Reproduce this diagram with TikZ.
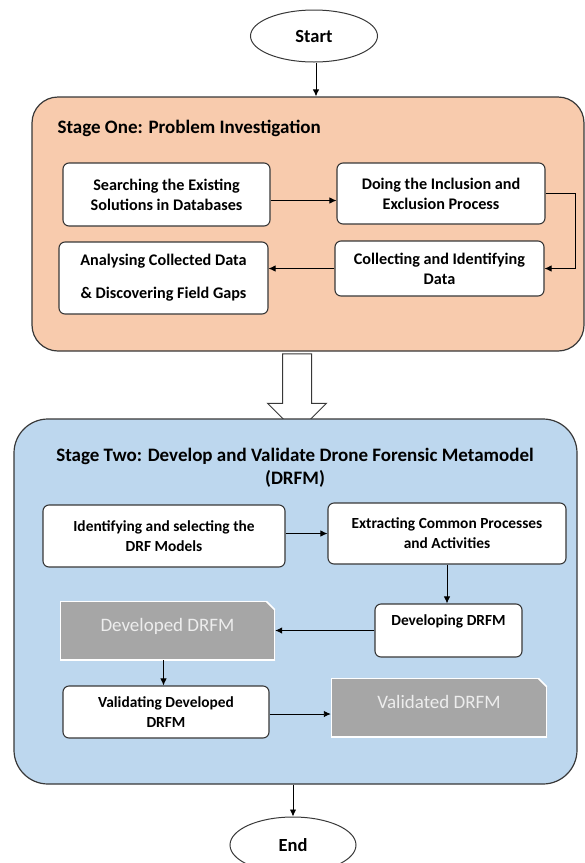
\documentclass[tikz,border=0pt]{standalone}
\usepackage{fontspec}
\setmainfont{Carlito}
\usetikzlibrary{arrows.meta,shapes.geometric,shapes.arrows}
\definecolor{stageone}{HTML}{F8CBAD}
\definecolor{stagetwo}{HTML}{BDD7EE}
\definecolor{docgray}{HTML}{A6A6A6}
\definecolor{edge}{HTML}{383838}

\begin{document}
\begin{tikzpicture}[x=1pt, y=-1pt,
    stage/.style={draw=edge, line width=1.2pt, rounded corners=26pt, inner sep=0pt},
    task/.style={draw=edge, line width=1.1pt, fill=white, rounded corners=6pt, align=center, inner sep=0pt,
        font=\fontsize{16.2}{20}\selectfont\bfseries},
    tasktwo/.style={task, font=\fontsize{15.4}{20}\selectfont\bfseries},
    output/.style={inner sep=0pt, align=center, text=white!93!black, font=\fontsize{19}{20}\selectfont,
        path picture={\fill[docgray, draw=white, line width=1.6pt]
            (path picture bounding box.south west) -- (path picture bounding box.north west)
            -- ([xshift=-9pt]path picture bounding box.north east)
            -- ([yshift=-9pt]path picture bounding box.north east)
            -- (path picture bounding box.south east) -- cycle;}},
    terminal/.style={ellipse, draw=edge, line width=1pt, inner sep=0pt, font=\fontsize{18.5}{20}\selectfont\bfseries},
    flow/.style={-{Latex[length=7pt, width=6.5pt]}, line width=0.9pt, draw=black},
    bigarrow/.style={single arrow, shape border rotate=270, draw=edge, fill=white, line width=1pt,
        inner sep=14pt, minimum height=79pt, single arrow head extend=15pt}]

    \clip (0,0) rectangle (585,863);

    % Start
    \node[terminal, minimum width=127pt, minimum height=52pt] (start) at (314,36) {Start};

    % Stage One
    \node[stage, fill=stageone, minimum width=552pt, minimum height=254pt] (one) at (308,224) {};
    \node[anchor=west, font=\fontsize{19}{20}\selectfont\bfseries] (onetitle) at (54,128) {Stage One: Problem Investigation};
    \node[task, minimum width=207pt, minimum height=63pt] (search) at (166.5,194.5) {Searching the Existing\\Solutions in Databases};
    \node[task, minimum width=208pt, minimum height=61pt] (incl) at (441,193.5) {Doing the Inclusion and\\Exclusion Process};
    \node[task, minimum width=209pt, minimum height=55pt] (collect) at (439.5,268.5) {Collecting and Identifying\\Data};
    \node[task, minimum width=209pt, minimum height=72pt] (analyse) at (163.5,278) {Analysing Collected Data\\[13pt]\& Discovering Field Gaps};

    % Stage One -> Stage Two
    \node[bigarrow] (pass) at (297,386) {};

    % Stage Two
    \node[stage, rounded corners=34pt, fill=stagetwo, minimum width=563pt, minimum height=365pt] (two) at (295.5,601.5) {};
    \node[align=center, font=\fontsize{19}{23}\selectfont\bfseries] (twotitle) at (295,467.5) {Stage Two: Develop and Validate Drone Forensic Metamodel\\(DRFM)};
    \node[tasktwo, minimum width=242pt, minimum height=62pt] (models) at (164,536) {Identifying and selecting the\\DRF Models};
    \node[tasktwo, minimum width=238pt, minimum height=61pt] (extract) at (447,533.5) {Extracting Common Processes\\and Activities};
    \node[tasktwo, minimum width=147pt, minimum height=53pt] (develop) at (448.5,630.5) {Developing DRFM\\\mbox{}};
    \node[output, minimum width=215pt, minimum height=59pt] (developed) at (167.5,630.5) {Developed DRFM\\[-9pt]\mbox{}};
    \node[tasktwo, minimum width=206pt, minimum height=52pt] (validating) at (166,712) {Validating Developed\\DRFM};
    \node[output, minimum width=216pt, minimum height=59pt] (validated) at (439,707.5) {Validated DRFM\\[-9pt]\mbox{}};

    % End
    \node[terminal, minimum width=126pt, minimum height=56pt] (end) at (293,845) {End};

    % Connectors
    \draw[flow] ([xshift=2pt]start.south) -- ([xshift=2pt]start.south |- one.north);
    \draw[flow] ([yshift=-6pt]search.east) -- ([yshift=-6pt]search.east -| incl.west);
    \draw[flow] (incl.east) -- ++(30,0) |- (collect.east);
    \draw[flow] (collect.west) -- (collect.west -| analyse.east);
    \draw[flow] (extract.west -| models.east) -- (extract.west);
    \draw[flow] (extract.south) -- (extract.south |- develop.north);
    \draw[flow] (develop.west) -- (develop.west -| developed.east);
    \draw[flow] ([xshift=-4pt]developed.south) -- ([xshift=-4pt]developed.south |- validating.north);
    \draw[flow] ([yshift=-2pt]validating.east) -- ([yshift=-2pt]validating.east -| validated.west);
    \draw[flow] (end.north |- two.south) -- (end.north);
\end{tikzpicture}
\end{document}
